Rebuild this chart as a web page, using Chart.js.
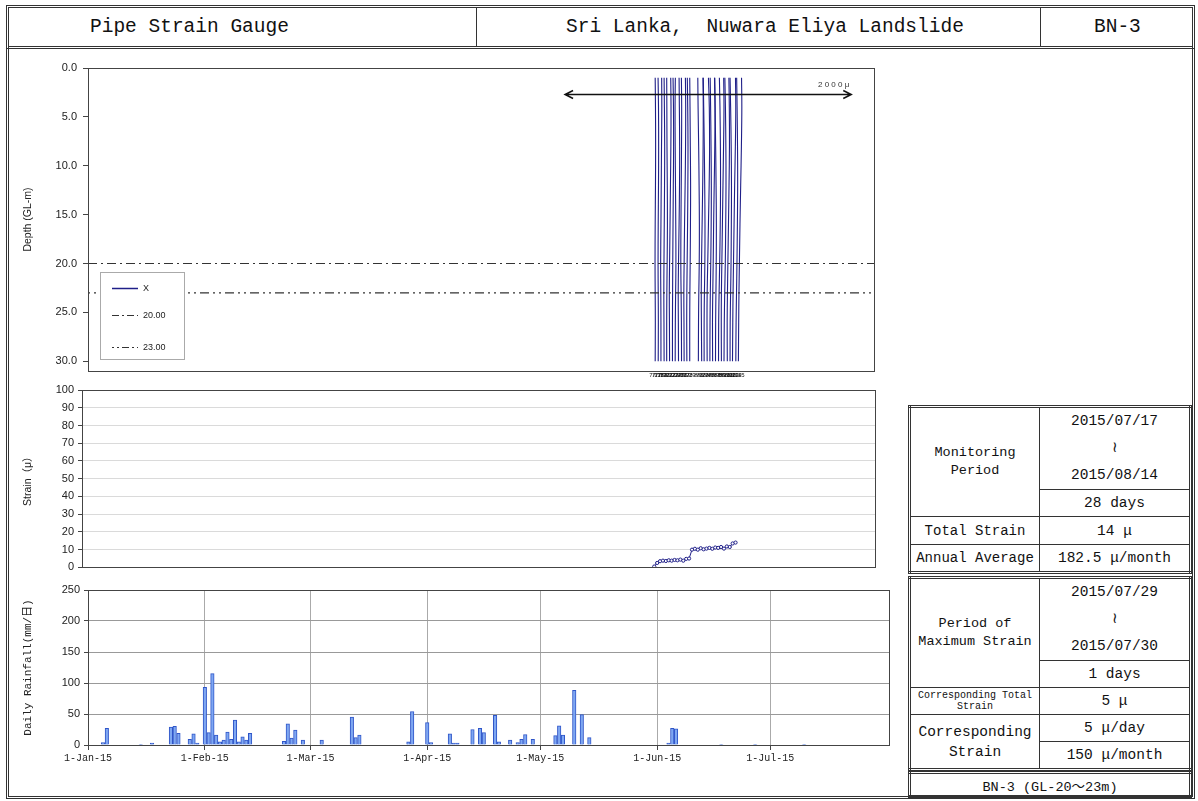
<!DOCTYPE html>
<html>
<head>
<meta charset="utf-8">
<script src="https://cdn.jsdelivr.net/npm/chart.js@4.4.0/dist/chart.umd.min.js"></script>
<style>
html, body { margin: 0; padding: 0; background: #fff; }
body { width: 1198px; height: 801px; position: relative; overflow: hidden;
       font-family: 'Liberation Mono', 'Noto Sans CJK JP', monospace; color: #111; }
.abs { position: absolute; box-sizing: border-box; }
#outer { left: 6px; top: 5px; width: 1189px; height: 794px; border: 3px double #333; }
#hdr { left: 6px; top: 5px; width: 1189px; height: 44px; border: 3px double #333; }
.htxt { position: absolute; top: 0; height: 38px; line-height: 38px; font-size: 19.5px; white-space: pre; }
.hdiv { position: absolute; top: 0; width: 0; height: 38px; border-left: 1.5px solid #333; }
canvas { position: absolute; left: 0; }
table.info { position: absolute; border-collapse: collapse; border: 3px double #333;
             text-align: center; font-size: 14.5px; table-layout: fixed; }
table.info td { border: 1px solid #333; padding: 0; }
td.lab { font-size: 13.5px; line-height: 18px; }
</style>
</head>
<body>
<div id="outer" class="abs"></div>
<div id="hdr" class="abs">
  <div class="htxt" style="left:81px">Pipe Strain Gauge</div>
  <div class="hdiv" style="left:467px"></div>
  <div class="htxt" style="left:557px">Sri Lanka,  Nuwara Eliya Landslide</div>
  <div class="hdiv" style="left:1031px"></div>
  <div class="htxt" style="left:1085px">BN-3</div>
</div>

<canvas id="depth" width="900" height="345" style="top:48px"></canvas>
<canvas id="strain" width="900" height="200" style="top:378px"></canvas>
<canvas id="rain" width="900" height="200" style="top:578px"></canvas>

<table class="info" style="left:908px; top:405px; width:284px">
  <tr><td class="lab" rowspan="2" style="width:128px">Monitoring<br>Period</td>
      <td style="height:81px; line-height:27px">2015/07/17<br>≀<br>2015/08/14</td></tr>
  <tr><td style="height:26px">28 days</td></tr>
  <tr><td class="lab" style="height:27px; font-size:14px">Total Strain</td><td>14 μ</td></tr>
  <tr><td class="lab" style="height:26px; font-size:14px">Annual Average</td><td>182.5 μ/month</td></tr>
</table>

<table class="info" style="left:908px; top:576px; width:284px">
  <tr><td class="lab" rowspan="2" style="width:128px">Period of<br>Maximum Strain</td>
      <td style="height:81px; line-height:27px">2015/07/29<br>≀<br>2015/07/30</td></tr>
  <tr><td style="height:26px">1 days</td></tr>
  <tr><td style="height:26px; font-size:10px; line-height:11px">Corresponding Total<br>Strain</td><td>5 μ</td></tr>
  <tr><td class="lab" rowspan="2" style="font-size:14.5px; line-height:20px">Corresponding<br>Strain</td>
      <td style="height:26px">5 μ/day</td></tr>
  <tr><td style="height:26px">150 μ/month</td></tr>
</table>

<table class="info" style="left:908px; top:771px; width:284px">
  <tr><td style="height:21px; font-size:13.5px">BN-3 (GL-20～23m)</td></tr>
</table>

<script>
// depth profiles (top chart): one line per measurement day, strain in micro at each depth
const profileDepths = [1, 4, 8, 12, 16, 20, 23, 26, 30];
const lineDays = [197, 198, 199, 200, 201, 202, 203, 204, 205, 206, 207, 208, 209,
                  212, 213, 214, 215, 216, 217, 218, 219, 220, 221, 222, 223, 224, 225, 226];
const lineProfiles = [
  [0, 2, 3, 2, 0, -1, 0, 1, 0],
  [0, 3, 4, 3, 1, 0, 1, 2, 1],
  [5, 6, 4, 2, 0, -2, -1, 0, 0],
  [2, 4, 6, 5, 3, 1, 0, 1, 2],
  [0, 1, 2, 4, 5, 3, 1, 0, 0],
  [8, 10, 9, 6, 3, 0, -2, -1, 0],
  [4, 7, 8, 6, 4, 2, 1, 0, 0],
  [0, -2, -1, 1, 3, 4, 2, 0, -1],
  [6, 8, 10, 9, 6, 2, 0, 1, 2],
  [2, 4, 3, 1, -1, -2, 0, 2, 3],
  [10, 12, 11, 8, 4, 1, -1, 0, 1],
  [3, 6, 8, 7, 5, 2, 0, -1, 0],
  [0, 2, 4, 6, 5, 3, 1, 0, 0],
  [-4, -2, 2, 5, 7, 6, 3, 1, 0],
  [12, 14, 13, 10, 6, 2, 0, 1, 3],
  [-6, -3, 1, 4, 6, 5, 2, 0, 0],
  [10, 16, 18, 15, 10, 5, 1, 0, 1],
  [2, 5, 8, 10, 9, 6, 3, 1, 0],
  [14, 16, 14, 10, 6, 3, 0, -2, -1],
  [-8, -4, 0, 3, 5, 4, 2, 0, -1],
  [6, 10, 13, 14, 12, 8, 4, 1, 0],
  [16, 18, 15, 11, 7, 3, 0, -1, 0],
  [4, 8, 11, 12, 10, 7, 3, 0, -2],
  [12, 15, 16, 13, 9, 5, 2, 0, 1],
  [0, 4, 8, 10, 9, 7, 4, 1, 0],
  [18, 20, 17, 12, 8, 4, 1, -1, -3],
  [6, 9, 12, 13, 11, 8, 5, 2, 0],
  [20, 22, 19, 14, 9, 5, 2, 0, -2]
];
const markerDepths = [20, 23];
const markerLabels = ['20.00', '23.00'];

// total strain series (middle chart), days counted from 1-Jan-15
const strainDays = [197, 198, 199, 200, 201, 202, 203, 204, 205, 206, 207, 208, 209, 210, 211,
                    212, 213, 214, 215, 216, 217, 218, 219, 220, 221, 222, 223, 224, 225];
const strainValues = [0.5, 2.5, 3.5, 3.8, 3.6, 4.0, 3.8, 4.2, 4.0, 4.4, 3.8, 4.8, 5.0, 10.0, 10.5,
                      10.0, 10.8, 10.2, 10.6, 11.0, 10.5, 11.2, 11.0, 11.5, 10.6, 11.8, 11.5, 13.5, 14.0];

// daily rainfall (bottom chart)
const rainDays = [4, 5, 14, 17, 22, 23, 24, 27, 28, 29,
                  31, 32, 33, 34, 35, 36, 37, 38, 39, 40, 41, 42, 43,
                  52, 53, 54, 55, 57, 62, 70, 71, 72, 85, 86, 90, 91,
                  96, 97, 98, 102, 104, 105, 108, 109, 112, 114, 115, 116, 118,
                  124, 125, 126, 129, 131, 133, 154, 155, 156, 168, 177, 190];
const rainValues = [4, 27, 1, 3, 29, 30, 19, 9, 18, 3,
                    93, 20, 115, 16, 5, 8, 21, 9, 40, 5, 13, 8, 19,
                    6, 34, 11, 24, 8, 8, 45, 12, 16, 5, 54, 36, 4,
                    18, 3, 3, 25, 27, 20, 48, 5, 8, 4, 9, 17, 9,
                    15, 31, 16, 88, 49, 12, 3, 27, 26, 1, 1, 1];
const monthDays = [0, 31, 59, 90, 120, 151, 181];
const monthLabels = ['1-Jan-15', '1-Feb-15', '1-Mar-15', '1-Apr-15', '1-May-15', '1-Jun-15', '1-Jul-15'];

const scaleMicro = 2000;          // length of the scale arrow
const microToDay = 99.4 / 2000;   // horizontal size of 1 micro in day units
const navy = '#1f1f88';
const sansFont = "'Liberation Sans', 'Noto Sans CJK JP', Arial, sans-serif";
const monoFont = "'Liberation Mono', 'Noto Sans CJK JP', monospace";

Chart.defaults.font.family = sansFont;
Chart.defaults.color = '#222';

const frame = {
  id: 'frame',
  afterDraw(chart) {
    const a = chart.chartArea, ctx = chart.ctx;
    ctx.save();
    ctx.strokeStyle = '#444';
    ctx.lineWidth = 1;
    ctx.strokeRect(Math.round(a.left) + 0.5, Math.round(a.top) + 0.5,
                   Math.round(a.right - a.left), Math.round(a.bottom - a.top));
    ctx.restore();
  }
};

function dayLabel(day) {
  const d = new Date(Date.UTC(2015, 0, 1 + day));
  return (d.getUTCMonth() + 1) + '/' + d.getUTCDate();
}

const depthExtras = {
  id: 'depthExtras',
  afterDatasetsDraw(chart) {
    const ctx = chart.ctx, a = chart.chartArea;
    const xs = chart.scales.x, ys = chart.scales.y;
    ctx.save();
    // scale arrow
    const x0 = xs.getPixelForValue(165.7);
    const x1 = xs.getPixelForValue(165.7 + scaleMicro * microToDay);
    const y = Math.round(ys.getPixelForValue(2.7)) + 0.5;
    ctx.strokeStyle = '#111';
    ctx.lineWidth = 1.5;
    ctx.beginPath();
    ctx.moveTo(x0, y); ctx.lineTo(x1, y);
    ctx.moveTo(x0 + 8, y - 4); ctx.lineTo(x0, y); ctx.lineTo(x0 + 8, y + 4);
    ctx.moveTo(x1 - 8, y - 4); ctx.lineTo(x1, y); ctx.lineTo(x1 - 8, y + 4);
    ctx.stroke();
    ctx.fillStyle = '#333';
    ctx.font = '8px ' + sansFont;
    ctx.textAlign = 'right';
    ctx.textBaseline = 'alphabetic';
    ctx.fillText('2 0 0 0 μ', x1 - 2, y - 8);

    // date labels below each profile
    ctx.font = '6px ' + sansFont;
    ctx.textAlign = 'center';
    ctx.textBaseline = 'top';
    ctx.fillStyle = '#111';
    lineDays.forEach(d => ctx.fillText(dayLabel(d), xs.getPixelForValue(d), a.bottom + 1));

    // legend box
    const lx = a.left + 12, ly = a.top + 204, lw = 84, lh = 87;
    ctx.fillStyle = '#fff';
    ctx.fillRect(lx, ly, lw, lh);
    ctx.strokeStyle = '#aaa';
    ctx.lineWidth = 1;
    ctx.strokeRect(lx + 0.5, ly + 0.5, lw, lh);
    const rows = [
      { label: 'X', color: navy, dash: [], width: 1.5 },
      { label: markerLabels[0], color: '#333', dash: [7, 3, 2, 3], width: 1.2 },
      { label: markerLabels[1], color: '#333', dash: [2, 3, 2, 3, 7, 3], width: 1.2 }
    ];
    const rowY = [16, 43, 75];
    ctx.font = '9px ' + sansFont;
    ctx.textAlign = 'left';
    ctx.textBaseline = 'middle';
    rows.forEach((r, i) => {
      const ry = ly + rowY[i] + 0.5;
      ctx.strokeStyle = r.color;
      ctx.lineWidth = r.width;
      ctx.setLineDash(r.dash);
      ctx.beginPath();
      ctx.moveTo(lx + 12, ry); ctx.lineTo(lx + 38, ry);
      ctx.stroke();
      ctx.setLineDash([]);
      ctx.fillStyle = '#222';
      ctx.fillText(r.label, lx + 43, ry);
    });
    ctx.restore();
  }
};

const profileSets = lineDays.map((day, i) => ({
  data: profileDepths.map((dep, j) => ({ x: day + lineProfiles[i][j] * microToDay, y: dep })),
  borderColor: navy,
  borderWidth: 1.1,
  pointRadius: 0,
  tension: 0.4,
  fill: false
}));
const markerSets = markerDepths.map((dep, i) => ({
  data: [{ x: 0, y: dep }, { x: 273, y: dep }],
  borderColor: '#333',
  borderWidth: 1.2,
  borderDash: i === 0 ? [9, 4, 2, 4] : [2, 4, 2, 4, 9, 4],
  pointRadius: 0,
  fill: false
}));

new Chart(document.getElementById('depth'), {
  type: 'line',
  data: { datasets: [...markerSets, ...profileSets] },
  options: {
    responsive: false,
    animation: false,
    layout: { padding: { top: 20, right: 26, bottom: 22, left: 0 } },
    plugins: { legend: { display: false }, tooltip: { enabled: false } },
    scales: {
      x: { type: 'linear', min: 0, max: 273, display: false },
      y: {
        type: 'linear', min: 0, max: 31, reverse: true,
        afterFit(s) { s.width = 88; },
        border: { color: '#444' },
        grid: { drawOnChartArea: false, tickLength: 5, color: '#444' },
        ticks: { stepSize: 5, includeBounds: false, padding: 6, font: { size: 11 },
                 callback: v => v.toFixed(1) },
        title: { display: true, text: 'Depth (GL-m)', font: { size: 10.5 }, padding: { top: 22, bottom: 0 } }
      }
    }
  },
  plugins: [depthExtras, frame]
});

new Chart(document.getElementById('strain'), {
  type: 'line',
  data: {
    datasets: [{
      data: strainDays.map((d, i) => ({ x: d, y: strainValues[i] })),
      borderColor: navy,
      borderWidth: 1,
      pointRadius: 1.6,
      pointBackgroundColor: '#fff',
      pointBorderColor: navy,
      pointBorderWidth: 1,
      fill: false
    }]
  },
  options: {
    responsive: false,
    animation: false,
    layout: { padding: { top: 12, right: 25, bottom: 6, left: 0 } },
    plugins: { legend: { display: false }, tooltip: { enabled: false } },
    scales: {
      x: { type: 'linear', min: 0, max: 273, display: false },
      y: {
        min: 0, max: 100,
        afterFit(s) { s.width = 82; },
        border: { color: '#444' },
        grid: { color: '#dadada', tickColor: '#444', tickLength: 4 },
        ticks: { stepSize: 10, padding: 4, font: { size: 11 } },
        title: { display: true, text: 'Strain（μ）', font: { size: 10.5 }, padding: { top: 22, bottom: 0 } }
      }
    }
  },
  plugins: [frame]
});

new Chart(document.getElementById('rain'), {
  type: 'bar',
  data: {
    datasets: [{
      data: rainDays.map((d, i) => ({ x: d, y: rainValues[i] })),
      backgroundColor: '#7ea7f2',
      borderColor: '#2f55c8',
      borderWidth: 1,
      barThickness: 3.5,
      grouped: false
    }]
  },
  options: {
    responsive: false,
    animation: false,
    layout: { padding: { top: 12, right: 11, bottom: 11, left: 0 } },
    plugins: { legend: { display: false }, tooltip: { enabled: false } },
    scales: {
      x: {
        type: 'linear', min: 0, max: 212.5, offset: false,
        afterFit(s) { s.height = 22; },
        afterBuildTicks(s) { s.ticks = monthDays.map(v => ({ value: v })); },
        border: { color: '#444' },
        grid: { color: '#aaa', tickColor: '#444', tickLength: 5, offset: false },
        ticks: { autoSkip: false, maxRotation: 0, padding: 2, font: { family: monoFont, size: 10 },
                 callback: v => monthLabels[monthDays.indexOf(v)] }
      },
      y: {
        min: 0, max: 250,
        afterFit(s) { s.width = 88; },
        border: { color: '#444' },
        grid: { color: '#999', tickColor: '#444', tickLength: 4 },
        ticks: { stepSize: 50, padding: 4, font: { size: 11 } },
        title: { display: true, text: 'Daily Rainfall(mm/日)', font: { family: monoFont, size: 11 },
                 padding: { top: 21, bottom: 0 } }
      }
    }
  },
  plugins: [frame]
});
</script>
</body>
</html>
